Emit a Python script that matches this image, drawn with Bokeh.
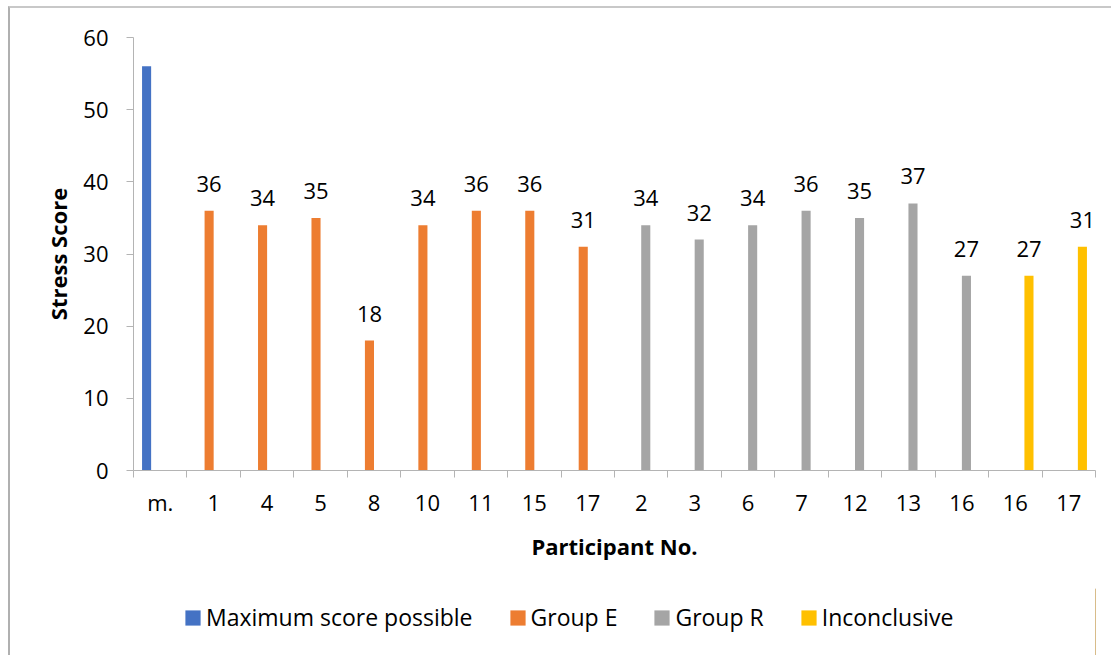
from bokeh.plotting import figure
from bokeh.layouts import column
from bokeh.models import ColumnDataSource, FixedTicker, Legend, LegendItem, Range1d
from bokeh.core.properties import value
from bokeh.embed import file_html
from bokeh.resources import INLINE

# ---- data ----
participants = ["m.", "1", "4", "5", "8", "10", "11", "15", "17",
                "2", "3", "6", "7", "12", "13", "16", "16", "17"]
scores = [56, 36, 34, 35, 18, 34, 36, 36, 31,
          34, 32, 34, 36, 35, 37, 27, 27, 31]
groups = ["Maximum score possible"] + ["Group E"] * 8 + ["Group R"] * 7 + ["Inconclusive"] * 2
series_names = ["Maximum score possible", "Group E", "Group R", "Inconclusive"]
series_colors = ["#4472C4", "#ED7D31", "#A5A5A5", "#FFC000"]
y_ticks = [0, 10, 20, 30, 40, 50, 60]

FONT = "Open Sans"
FS = "22px"
AXIS_GRAY = "#b4b4b4"

p = figure(width=1101, height=580, output_backend="svg", toolbar_location=None,
           x_range=Range1d(0, len(participants)), y_range=Range1d(0, 60),
           min_border_left=123, min_border_right=16, min_border_top=29,
           min_border_bottom=118)
p.outline_line_color = None
p.xgrid.visible = False
p.ygrid.visible = False
p.background_fill_color = "white"
p.border_fill_color = "white"

n_series = len(series_names)
bar_w = 0.17
for si, (name, color) in enumerate(zip(series_names, series_colors)):
    idx = [i for i, g in enumerate(groups) if g == name]
    offset = (si - (n_series - 1) / 2) * bar_w
    xs = [i + 0.5 + offset for i in idx]
    ys = [scores[i] for i in idx]
    labels = [str(scores[i]) for i in idx]
    src = ColumnDataSource(dict(x=xs, y=ys, label=labels))
    p.vbar(x="x", top="y", width=bar_w, bottom=0, source=src,
           fill_color=color, line_color=None)
    if name != "Maximum score possible":
        p.text(x="x", y="y", text="label", source=src, text_align="center",
               text_baseline="bottom", y_offset=-19, text_font=value(FONT),
               text_font_size=FS, text_color="black")

# y axis
yax = p.yaxis[0]
yax.ticker = FixedTicker(ticks=y_ticks)
yax.axis_line_color = AXIS_GRAY
yax.major_tick_line_color = AXIS_GRAY
yax.major_tick_out = 7
yax.major_tick_in = 0
yax.minor_tick_line_color = None
yax.major_label_text_font = FONT
yax.major_label_text_font_size = FS
yax.major_label_text_color = "black"
yax.major_label_standoff = 18
yax.axis_label = "Stress Score"
yax.axis_label_text_font = FONT
yax.axis_label_text_font_style = "bold"
yax.axis_label_text_font_size = FS
yax.axis_label_text_color = "black"
yax.axis_label_standoff = 7

# x axis
xax = p.xaxis[0]
centers = [i + 0.5 for i in range(len(participants))]
xax.ticker = FixedTicker(ticks=centers, minor_ticks=list(range(len(participants) + 1)))
xax.major_label_overrides = {c: lab for c, lab in zip(centers, participants)}
xax.axis_line_color = AXIS_GRAY
xax.major_tick_line_color = None
xax.major_tick_out = 0
xax.major_tick_in = 0
xax.minor_tick_line_color = AXIS_GRAY
xax.minor_tick_out = 7
xax.minor_tick_in = 0
xax.major_label_text_font = FONT
xax.major_label_text_font_size = FS
xax.major_label_text_color = "black"
xax.major_label_standoff = 9
xax.axis_label = "Participant No."
xax.axis_label_text_font = FONT
xax.axis_label_text_font_style = "bold"
xax.axis_label_text_font_size = FS
xax.axis_label_text_color = "black"
xax.axis_label_standoff = 11

# legend in its own strip below the chart
lf = figure(width=1101, height=67, output_backend="svg", toolbar_location=None,
            x_range=Range1d(0, 1), y_range=Range1d(0, 1),
            x_axis_location=None, y_axis_location=None, min_border=0)
lf.xgrid.visible = False
lf.ygrid.visible = False
lf.outline_line_color = None
lf.background_fill_color = "white"
lf.border_fill_color = "white"
items = []
for name, color in zip(series_names, series_colors):
    # a key entry only: its one bar lies outside the strip's visible range
    r = lf.vbar(x=[5], top=[1], width=0.1, fill_color=color, line_color=None)
    items.append(LegendItem(label=name, renderers=[r]))
legend = Legend(items=items, orientation="horizontal", location=(50, 22),
                glyph_width=19, glyph_height=19, spacing=35, padding=0, margin=0,
                label_text_font=FONT, label_text_font_size="23px",
                label_text_color="black",
                label_standoff=4, border_line_color=None,
                background_fill_alpha=0)
lf.add_layout(legend, "center")

layout = column(p, lf, spacing=0)
layout.margin = (6, 0, 0, 8)
layout.styles = {"border-left": "2px solid #b0b0b0", "border-top": "2px solid #c8c8c8"}

open("out.html", "w").write(file_html(layout, INLINE))
